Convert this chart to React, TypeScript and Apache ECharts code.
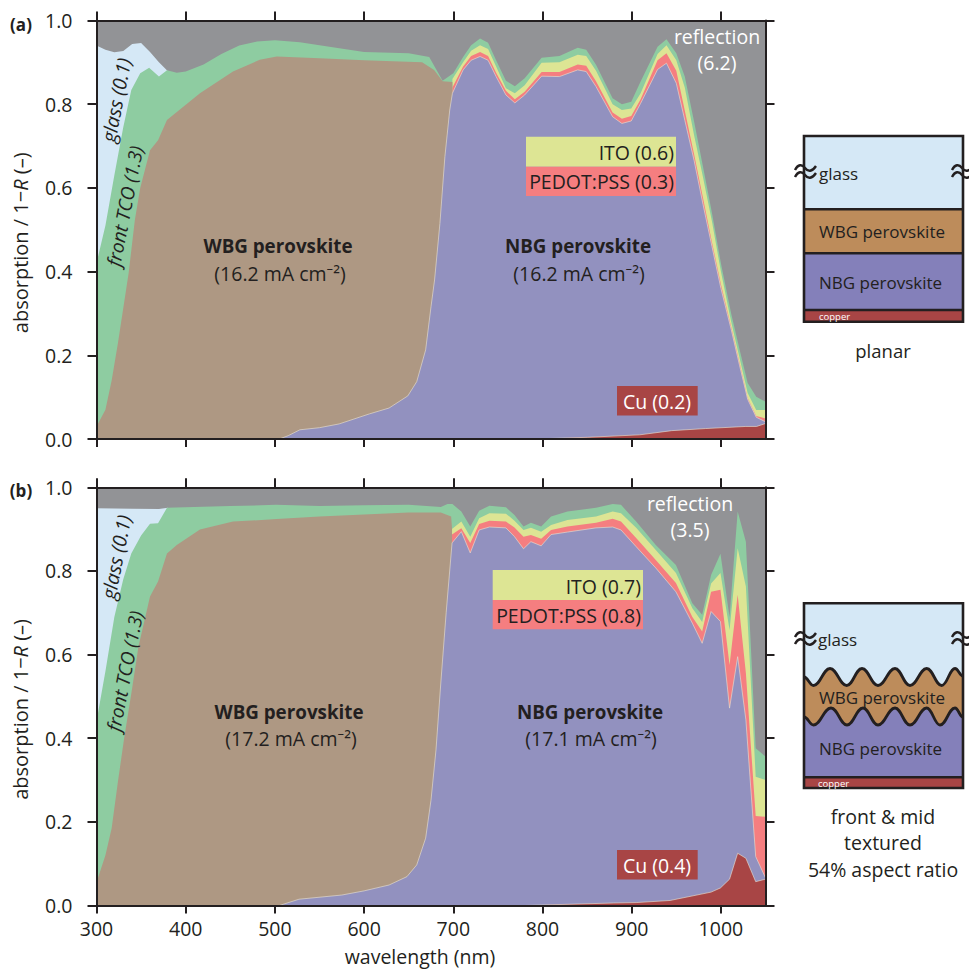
import React, { useEffect, useRef } from "react";
import * as echarts from "echarts";

const FONT = "'Open Sans', 'Noto Sans', sans-serif";
const INK = "#231f20";

const xTicks = [300, 400, 500, 600, 700, 800, 900, 1000];
const yTicks = [0, 0.2, 0.4, 0.6, 0.8, 1.0];

const reflectionTop = [[300, 1], [1050, 1]];

// Panel (a): upper edge of each layer, [wavelength nm, cumulative absorption]
const glassA = [[300, .94], [310, .93], [320, .924], [330, .927], [340, .944], [350, .946], [360, .925], [370, .90], [380, .879]];
const tcoA = [[300, .42], [310, .51], [320, .63], [330, .745], [339, .834], [349, .874], [359, .887], [370, .866], [379, .881], [390, .875], [400, .878], [420, .895], [440, .92], [460, .94], [480, .95], [500, .953], [528, .948], [550, .941], [600, .925], [650, .922], [673, .913], [688, .856], [700, .874], [711, .913], [720, .941], [730, .957], [739, .947], [748, .905], [759, .856], [769, .843], [780, .862], [799, .911], [819, .915], [839.5, .935], [849, .93], [860, .894], [878.6, .814], [889, .80], [899.5, .806], [910, .854], [929, .937], [939, .955], [950, .922], [959.5, .866], [970, .758], [980, .65], [990, .54], [1000, .42], [1011.5, .30], [1021, .213], [1030, .134], [1039.6, .101], [1050, .089]];
const itoA = [[699, .86], [711, .90], [720, .928], [730, .941], [739, .932], [748, .89], [759, .838], [769, .826], [780, .845], [799, .899], [819, .90], [839.5, .918], [849, .915], [860, .88], [878.6, .80], [889, .786], [899.5, .79], [910, .826], [929, .92], [939, .941], [950, .905], [959.5, .84], [970, .725], [980, .625], [990, .52], [1000, .40], [1011.5, .28], [1021, .193], [1030, .11], [1039.6, .069], [1050, .069]];
const pedotA = [[699, .84], [711, .89], [720, .915], [730, .925], [739, .915], [748, .875], [759, .832], [769, .812], [780, .83], [799, .877], [819, .877], [839.5, .895], [849, .892], [860, .855], [878.6, .78], [889, .765], [899.5, .772], [910, .812], [929, .905], [939, .922], [950, .88], [959.5, .785], [970, .68], [980, .575], [990, .47], [1000, .37], [1011.5, .268], [1021, .181], [1030, .098], [1039.6, .055], [1050, .049]];
const wbgA = [[300, .03], [310, .07], [317, .14], [324, .229], [336, .396], [343, .523], [349, .60], [360, .69], [369, .714], [379, .762], [416, .826], [453, .878], [483, .906], [502, .914], [550, .91], [600, .905], [665, .90], [678.5, .882], [688, .855], [699, .853]];
const nbgA = [[505, 0], [515, .008], [528, .022], [550, .027], [572, .036], [606, .06], [628, .074], [649, .103], [659, .137], [669, .213], [675, .316], [679, .38], [685, .515], [690.6, .675], [696, .786], [699, .826], [711, .882], [720, .905], [730, .914], [739, .905], [748, .866], [759, .822], [769, .803], [780, .822], [799, .867], [819, .866], [839.5, .882], [849, .878], [860, .842], [878.6, .77], [889, .754], [899.5, .76], [910, .802], [929, .883], [939, .898], [950, .85], [959.5, .762], [970, .665], [980, .56], [990, .46], [1000, .36], [1011.5, .262], [1021, .175], [1030, .095], [1039.6, .052], [1050, .041]];
const cuA = [[790, 0], [850, .004], [909, .01], [945, .02], [983, .025], [1028, .03], [1040, .03], [1050, .037]];

// Panel (b)
const glassB = [[300, .95], [340, .949], [370, .948], [380, .951]];
const tcoB = [[300, .44], [310, .56], [320, .69], [330, .78], [339, .842], [350, .885], [360, .913], [369, .914], [379, .951], [450, .955], [501, .958], [550, .955], [600, .957], [650, .958], [686, .953], [693.5, .96], [699, .96], [709, .942], [719, .906], [729, .944], [740.5, .956], [759, .952], [768.6, .934], [778.7, .906], [787, .915], [798.5, .906], [809.6, .93], [828, .942], [860, .951], [878.7, .96], [888, .958], [905, .918], [927, .862], [949.6, .814], [968, .723], [979, .695], [989, .79], [999.5, .841], [1009.7, .69], [1018.8, .942], [1028, .87], [1039, .376], [1050, .356]];
const itoB = [[698.5, .90], [709, .918], [719, .882], [729, .926], [740.5, .938], [759, .937], [768.6, .92], [778.7, .898], [787, .903], [798.5, .894], [809.6, .91], [828, .922], [860, .93], [878.7, .942], [888, .938], [905, .903], [927, .85], [949.6, .795], [968, .711], [979, .678], [989, .77], [999.5, .795], [1009.7, .659], [1018.8, .854], [1028, .763], [1039, .308], [1050, .30]];
const pedotB = [[698.5, .887], [709, .902], [719, .867], [729, .912], [740.5, .92], [759, .918], [768.6, .904], [778.7, .882], [787, .886], [798.5, .877], [809.6, .898], [828, .906], [860, .915], [878.7, .925], [888, .918], [905, .879], [927, .826], [949.6, .771], [968, .69], [979, .655], [989, .75], [999.5, .755], [1009.7, .575], [1018.8, .743], [1028, .556], [1039, .214], [1050, .212]];
const wbgB = [[300, .055], [310, .12], [317, .185], [324, .296], [331, .40], [340, .52], [347, .619], [360, .739], [369, .775], [379, .842], [390, .862], [416, .899], [453, .918], [502, .924], [550, .93], [600, .935], [650, .94], [686, .94], [697.6, .93], [698.6, .90]];
const nbgB = [[505, 0], [527, .015], [575, .025], [600, .035], [628, .049], [648, .069], [659, .097], [669, .161], [675, .252], [680.6, .372], [686, .532], [692, .70], [698.6, .867], [709, .894], [719, .843], [729, .898], [740.5, .905], [759, .903], [768.6, .882], [778.7, .853], [787, .87], [798.5, .86], [809.6, .887], [828, .893], [860, .903], [878.7, .905], [888, .898], [905, .858], [927, .807], [949.6, .75], [968, .675], [979, .627], [989, .703], [999.5, .679], [1009.7, .472], [1018.8, .595], [1028, .444], [1039, .117], [1050, .066]];
const cuB = [[780, 0], [880, .006], [905, .007], [943, .012], [989, .032], [999.5, .042], [1009.7, .063], [1018.8, .125], [1028, .113], [1039, .057], [1050, .063]];

const COLORS = {
  reflection: "#929396", glass: "#d5e8f6", tco: "#8ecca1", ito: "#dde594", pedot: "#f57e80",
  wbg: "#ae9883", nbg: "#9291bf", cu: "#a84545", wbgBox: "#bd8c5b", nbgBox: "#8480ba",
};

// Schematic drawings (decoration, not data)
function waveD(nodes: number[][]) {
  let d = `M${nodes[0][0]} ${nodes[0][1]}`;
  for (let i = 1; i < nodes.length; i++) {
    const [x0, y0] = nodes[i - 1];
    const [x1, y1] = nodes[i];
    const k = (x1 - x0) * 0.42;
    d += ` C${x0 + k} ${y0} ${x1 - k} ${y1} ${x1} ${y1}`;
  }
  return d;
}
const wave1 = [[804, 677], [813.5, 685.5], [830, 668.5], [846.7, 685.5], [862, 668.5], [878, 685.5], [895, 668.5], [910, 685.5], [926.7, 668.5], [941.7, 685.5], [955, 668.5], [963, 676]];
const wave2 = [[804, 717], [813.5, 725], [831, 708], [847, 725], [863, 708], [878, 725], [895, 708], [910, 725], [926.7, 708], [940, 725], [955, 708], [963, 717]];
const closeD = " L963 788 L804 788 Z";
const registerOnce = (name: string, d: string) =>
  echarts.graphic.registerShape(name, echarts.graphic.extendPath(d, {}));
registerOnce("wave1Line", waveD(wave1));
registerOnce("wave2Line", waveD(wave2));
registerOnce("wave1Fill", waveD(wave1) + closeD);
registerOnce("wave2Fill", waveD(wave2) + closeD);
registerOnce("breakMark", "M0 6 C3 0 7 0 10 4 C13 8 17 8 21 2 M0 13 C3 7 7 7 10 11 C13 15 17 15 21 9");

function txt(text: string, x: number, y: number, o: any = {}) {
  const { rotation, ...style } = o;
  return {
    type: "text", x, y, rotation: rotation || 0, silent: true, z: 20,
    style: { text, fontFamily: FONT, fontSize: 19.5, fill: INK, align: "center", verticalAlign: "middle", ...style },
  };
}
function box(x: number, y: number, w: number, h: number, fill: string, z = 10) {
  return { type: "rect", shape: { x, y, width: w, height: h }, style: { fill }, silent: true, z };
}
const deg = (d: number) => (d * Math.PI) / 180;

function plotLabels(p: any) {
  return [
    txt("WBG perovskite", p.wbgX, p.line1, { fontWeight: "bold", fontSize: 18.8 }),
    txt(p.wbgCur, p.wbgX + 2, p.line2),
    txt("NBG perovskite", p.nbgX, p.line1, { fontWeight: "bold", fontSize: 18.8 }),
    txt(p.nbgCur, p.nbgX + 1, p.line2),
    txt("reflection", p.refX, p.refY, { fill: "#fff" }),
    txt(p.refVal, p.refX, p.refY + 26, { fill: "#fff" }),
    box(p.boxL, p.boxT, p.boxR - p.boxL, 30, COLORS.ito),
    box(p.boxL, p.boxT + 30, p.boxR - p.boxL, 29.3, COLORS.pedot),
    txt(p.ito, p.boxR - 2, p.boxT + 16, { align: "right" }),
    txt(p.pedot, p.boxR - 2, p.boxT + 45, { align: "right" }),
    box(617, p.cuT, 80.7, 29.6, COLORS.cu),
    txt(p.cu, 657, p.cuT + 15, { fill: "#fff" }),
    txt("glass (0.1)", 116, p.glassY, { rotation: deg(79), fontStyle: "italic", fontSize: 19.5 }),
    txt("front TCO (1.3)", 125, p.tcoY, { rotation: deg(79), fontStyle: "italic", fontSize: 19 }),
    txt(p.tag, 21, p.tagY, { fontWeight: "bold", fontSize: 17 }),
  ];
}

function planar() {
  const l = 804, r = 963, stroke = { stroke: INK, lineWidth: 2.6 };
  const line = (y: number) => ({ type: "line", shape: { x1: l, y1: y, x2: r, y2: y }, style: stroke, silent: true, z: 12 });
  return [
    box(l, 136, r - l, 73.3, COLORS.glass),
    box(l, 209.3, r - l, 44, COLORS.wbgBox),
    box(l, 253.3, r - l, 56.7, COLORS.nbgBox),
    box(l, 310, r - l, 11.7, COLORS.cu),
    line(209.3), line(253.3), line(310),
    { type: "rect", shape: { x: l, y: 136, width: r - l, height: 185.7 }, style: { fill: "none", ...stroke }, silent: true, z: 12 },
    txt("glass", 819, 173, { align: "left", fontSize: 17 }),
    txt("WBG perovskite", 819, 231, { align: "left", fontSize: 17 }),
    txt("NBG perovskite", 819, 282, { align: "left", fontSize: 17 }),
    txt("copper", 819, 316.5, { align: "left", fontSize: 9.5, fill: "#fff" }),
    txt("planar", 883, 350, { fontSize: 18.5 }),
  ];
}

function textured() {
  const l = 804, r = 963, stroke = { stroke: INK, lineWidth: 2.8, fill: "none" };
  const shp = (type: string, style: any, z: number) => ({ type, x: 0, y: 0, style, silent: true, z });
  return [
    box(l, 603.3, r - l, 184.7, COLORS.glass, 9),
    shp("wave1Fill", { fill: COLORS.wbgBox }, 10),
    shp("wave2Fill", { fill: COLORS.nbgBox }, 11),
    box(l, 777.3, r - l, 10.7, COLORS.cu, 12),
    shp("wave1Line", stroke, 13),
    shp("wave2Line", stroke, 13),
    { type: "line", shape: { x1: l, y1: 777.3, x2: r, y2: 777.3 }, style: { stroke: INK, lineWidth: 2.6 }, silent: true, z: 13 },
    { type: "rect", shape: { x: l, y: 603.3, width: r - l, height: 184.7 }, style: { fill: "none", stroke: INK, lineWidth: 2.6 }, silent: true, z: 13 },
    txt("glass", 818, 639, { align: "left", fontSize: 17 }),
    txt("WBG perovskite", 819, 697, { align: "left", fontSize: 17 }),
    txt("NBG perovskite", 819, 748, { align: "left", fontSize: 17 }),
    txt("copper", 818, 783, { align: "left", fontSize: 9.5, fill: "#fff" }),
    txt("front & mid", 883, 816),
    txt("textured", 883, 842),
    txt("54% aspect ratio", 883, 869),
  ];
}

function breakMarks() {
  const places = [[795, 164], [952, 164], [795, 631], [952, 631]];
  return places.map(([x, y]) => ({
    type: "breakMark", x, y, silent: true, z: 14,
    style: { fill: "none", stroke: INK, lineWidth: 2.4 },
  }));
}

function area(name: string, data: number[][], color: string, idx: number, line = false) {
  return {
    name, type: "line", data, xAxisIndex: idx, yAxisIndex: idx, symbol: "none", silent: true,
    lineStyle: line ? { width: 0.8, color: "#e8e0d0", opacity: 0.8 } : { width: 0, color },
    itemStyle: { color }, areaStyle: { color, opacity: 1, origin: "start" },
  };
}
function panel(idx: number, g: any, t: any, w: any, n: any, p: any, c: any, tc: any) {
  return [
    area("reflection", reflectionTop, COLORS.reflection, idx),
    area("glass", g, COLORS.glass, idx),
    area("front TCO", tc, COLORS.tco, idx),
    area("ITO", t, COLORS.ito, idx),
    area("PEDOT:PSS", p, COLORS.pedot, idx),
    area("WBG perovskite", w, COLORS.wbg, idx),
    area("NBG perovskite", n, COLORS.nbg, idx, true),
    area("Cu", c, COLORS.cu, idx, true),
  ];
}

const axisCommon = {
  z: 6,
  axisLine: { show: true, onZero: false, lineStyle: { color: INK, width: 2 } },
  splitLine: { show: false },
};
function xAxis(gridIndex: number, position: string, withLabels: boolean, title: boolean) {
  return {
    ...axisCommon, type: "value", gridIndex, position, min: 300, max: 1050,
    axisTick: { show: true, length: position === "top" ? 9 : 8, customValues: xTicks, lineStyle: { color: INK, width: 2 } },
    axisLabel: { show: withLabels, customValues: xTicks, margin: 13, fontFamily: FONT, fontSize: 19.5, color: INK, formatter: (v: number) => String(v) },
    ...(title ? { name: "wavelength (nm)", nameLocation: "middle", nameGap: 41, nameTextStyle: { fontFamily: FONT, fontSize: 19.5, color: INK, padding: [0, 22, 0, 0] } } : {}),
  };
}
function yAxis(gridIndex: number, position: string) {
  const left = position === "left";
  return {
    ...axisCommon, type: "value", gridIndex, position, min: 0, max: 1,
    axisTick: { show: true, length: 9, customValues: yTicks, lineStyle: { color: INK, width: 2 } },
    axisLabel: { show: left, customValues: yTicks, margin: 24, fontFamily: FONT, fontSize: 19.5, color: INK, formatter: (v: number) => v.toFixed(1) },
    ...(left ? {
      name: "{a|absorption / 1−}{i|R}{a| (–)}", nameLocation: "middle", nameGap: 66,
      nameTextStyle: {
        padding: [0, 26, 0, 0],
        rich: {
          a: { fontFamily: FONT, fontSize: 20, color: INK },
          i: { fontFamily: FONT, fontSize: 20, color: INK, fontStyle: "italic" },
        },
      },
    } : {}),
  };
}

export default function App() {
  const ref = useRef<HTMLDivElement>(null);
  useEffect(() => {
    const chart = echarts.init(ref.current!, undefined, { renderer: "svg" });
    chart.setOption({
      animation: false,
      backgroundColor: "#fff",
      textStyle: { fontFamily: FONT },
      grid: [
        { left: 96.5, top: 20.5, width: 669, height: 418.5 },
        { left: 96.5, top: 487.3, width: 669, height: 418.2 },
      ],
      xAxis: [xAxis(0, "bottom", false, false), xAxis(0, "top", false, false), xAxis(1, "bottom", true, true), xAxis(1, "top", false, false)],
      yAxis: [yAxis(0, "left"), yAxis(0, "right"), yAxis(1, "left"), yAxis(1, "right")],
      series: [
        ...panel(0, glassA, itoA, wbgA, nbgA, pedotA, cuA, tcoA),
        ...panel(2, glassB, itoB, wbgB, nbgB, pedotB, cuB, tcoB),
      ],
      graphic: [
        ...plotLabels({
          wbgX: 278, nbgX: 578, line1: 246, line2: 273, wbgCur: "(16.2 mA cm⁻²)", nbgCur: "(16.2 mA cm⁻²)",
          refX: 717, refY: 36, refVal: "(6.2)", boxL: 526, boxR: 676, boxT: 136.7, ito: "ITO (0.6)", pedot: "PEDOT:PSS (0.3)",
          cuT: 386, cu: "Cu (0.2)", glassY: 100, tcoY: 206, tag: "(a)", tagY: 24,
        }),
        ...plotLabels({
          wbgX: 289, nbgX: 590, line1: 712, line2: 738, wbgCur: "(17.2 mA cm⁻²)", nbgCur: "(17.1 mA cm⁻²)",
          refX: 690, refY: 503, refVal: "(3.5)", boxL: 492.7, boxR: 643, boxT: 570, ito: "ITO (0.7)", pedot: "PEDOT:PSS (0.8)",
          cuT: 850, cu: "Cu (0.4)", glassY: 557, tcoY: 671, tag: "(b)", tagY: 490,
        }),
        ...planar(),
        ...textured(),
        ...breakMarks(),
      ],
    });
    return () => chart.dispose();
  }, []);
  return <div ref={ref} style={{ position: "absolute", left: 0, top: 0, width: 969, height: 971 }} />;
}
